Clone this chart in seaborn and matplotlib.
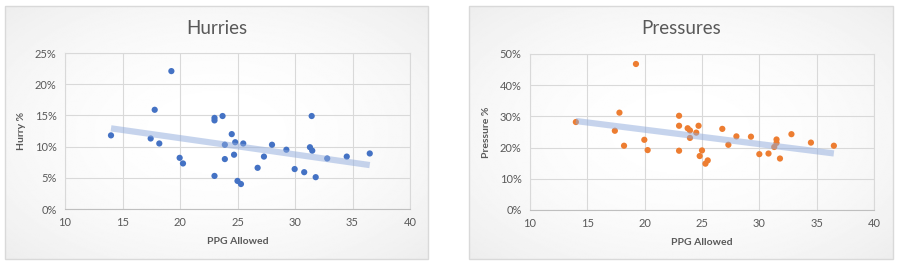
import numpy as np
import pandas as pd
import matplotlib
matplotlib.use("Agg")
import matplotlib.pyplot as plt
import seaborn as sns
from matplotlib.patches import Rectangle
from matplotlib.ticker import FuncFormatter, MultipleLocator

# ---- data ----
ppg_allowed = [14.0, 17.45, 17.8, 18.2, 19.25, 19.97, 20.26, 23.0, 23.0, 23.0,
               23.7, 23.9, 23.9, 24.5, 24.7, 24.8, 25.0, 25.3, 25.5, 26.75,
               27.3, 28.0, 29.25, 29.97, 30.8, 31.3, 31.45, 31.5, 31.8, 32.8,
               34.5, 36.5]
hurry_pct = [11.8, 11.3, 15.9, 10.5, 22.1, 8.2, 7.3, 5.3, 14.6, 14.2,
             14.9, 10.3, 8.0, 12.0, 8.7, 10.7, 4.5, 4.0, 10.5, 6.6,
             8.4, 10.3, 9.5, 6.4, 5.9, 9.9, 14.9, 9.35, 5.1, 8.1,
             8.4, 8.9]
pressure_ppg = [14.0, 17.4, 17.8, 18.2, 19.24, 19.97, 20.26, 23.0, 23.0, 23.0,
                23.75, 23.95, 23.95, 24.5, 24.7, 24.8, 25.0, 25.3, 25.5, 26.77,
                27.3, 28.0, 29.27, 30.0, 30.8, 31.3, 31.5, 31.5, 31.8, 32.8,
                34.5, 36.5]
pressure_pct = [28.2, 25.4, 31.2, 20.6, 46.8, 22.5, 19.2, 19.0, 30.2, 27.0,
                26.2, 25.5, 23.1, 24.8, 27.0, 17.3, 19.1, 14.85, 15.9, 26.0,
                20.9, 23.6, 23.5, 17.9, 18.1, 20.2, 22.6, 21.5, 16.5, 24.3,
                21.6, 20.6]

titles = ["Hurries", "Pressures"]
ylabels = ["Hurry %", "Pressure %"]
xlabel = "PPG Allowed"
ylims = [(0, 25), (0, 50)]
ysteps = [5, 10]
point_colors = ["#4472C4", "#ED7D31"]

sns.set_theme(style="white")
plt.rcParams["font.family"] = ["Lato", "DejaVu Sans"]

W, H = 900, 267
fig = plt.figure(figsize=(W / 100, H / 100), dpi=100)
fig.patch.set_facecolor("white")

def fx(px):
    return px / W

def fy(py):
    return 1 - py / H

panels = [(5, 428), (469, 893)]
plot_areas = [(65, 410, 53, 209), (530, 874, 54, 210)]

# radial gradient background for each chart box
gy, gx = np.mgrid[-1:1:200j, -1:1:400j]
grad = np.sqrt(gx ** 2 + gy ** 2) / np.sqrt(2)
grad = 1 - 0.07 * grad ** 2

for i in range(2):
    x0, x1 = panels[i]
    bg = fig.add_axes([fx(x0), fy(259), fx(x1 - x0), (259 - 6) / H], zorder=0)
    bg.imshow(grad, cmap="gray", vmin=0, vmax=1, aspect="auto",
              extent=[0, 1, 0, 1], interpolation="bilinear")
    bg.set_axis_off()
    fig.patches.append(Rectangle((fx(x0), fy(259)), fx(x1 - x0), (259 - 6) / H,
                                 transform=fig.transFigure, fill=False,
                                 edgecolor="#D9D9D9", lw=1.0, zorder=5))

datasets = [
    pd.DataFrame({"ppg": ppg_allowed, "val": hurry_pct}),
    pd.DataFrame({"ppg": pressure_ppg, "val": pressure_pct}),
]

for i in range(2):
    l, r, t, b = plot_areas[i]
    ax = fig.add_axes([fx(l), fy(b), fx(r - l), (b - t) / H], zorder=2)
    ax.patch.set_alpha(0)
    sns.regplot(data=datasets[i], x="ppg", y="val", ax=ax, ci=None,
                scatter_kws=dict(s=20, color=point_colors[i], edgecolor="none",
                                 alpha=1, zorder=3),
                line_kws=dict(color="#8FAADC", lw=4.5, alpha=0.5,
                              solid_capstyle="butt", zorder=4))
    ax.set_xlim(10, 40)
    ax.set_ylim(*ylims[i])
    ax.xaxis.set_major_locator(MultipleLocator(5))
    ax.yaxis.set_major_locator(MultipleLocator(ysteps[i]))
    ax.yaxis.set_major_formatter(FuncFormatter(lambda v, p: f"{v:.0f}%"))
    ax.grid(True, color="#D9D9D9", lw=0.8)
    ax.set_axisbelow(True)
    for s in ax.spines.values():
        s.set_visible(True)
        s.set_color("#D9D9D9")
        s.set_linewidth(0.8)
    ax.spines["bottom"].set_color("#BFBFBF")
    ax.tick_params(axis="both", length=0, labelsize=8, labelcolor="#595959")
    ax.tick_params(axis="y", pad=6)
    ax.tick_params(axis="x", pad=6)
    ax.set_xlabel(xlabel, fontsize=7.5, fontweight="bold", color="#595959",
                  labelpad=6)
    ax.set_ylabel(ylabels[i], fontsize=7.5, fontweight="bold", color="#595959",
                  labelpad=6)
    x0, x1 = panels[i]
    fig.text(fx((x0 + x1) / 2), fy(28), titles[i], ha="center", va="center",
             fontsize=13.5, color="#595959")

fig.savefig("out.png", dpi=100, facecolor="white")
